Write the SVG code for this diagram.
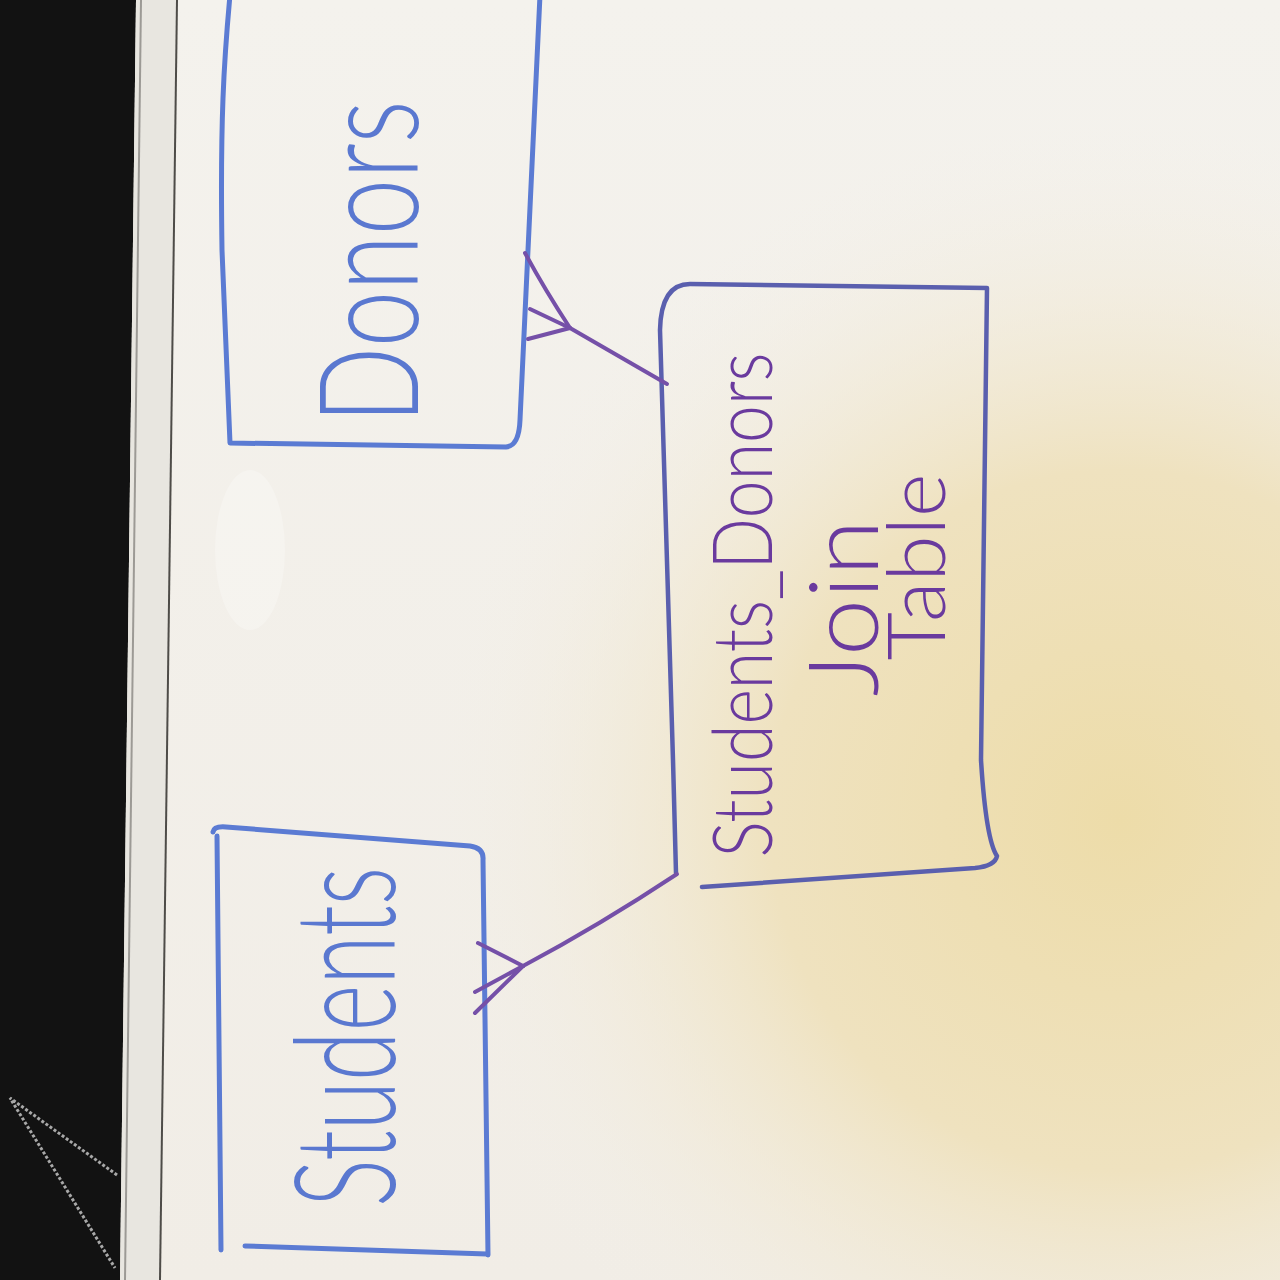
<svg xmlns="http://www.w3.org/2000/svg" width="1280" height="1280" viewBox="0 0 1280 1280">
<defs>
<radialGradient id="warm" cx="1120" cy="820" r="700" gradientUnits="userSpaceOnUse">
<stop offset="0" stop-color="#eddca9"/>
<stop offset="0.5" stop-color="#efe2bf"/>
<stop offset="1" stop-color="#f3f0ea" stop-opacity="0"/>
</radialGradient>
<linearGradient id="board" x1="0" y1="0" x2="0" y2="1">
<stop offset="0" stop-color="#f4f2ed"/>
<stop offset="1" stop-color="#f1ede6"/>
</linearGradient>
<style>
.blue{fill:none;stroke:#5b7bd3;stroke-width:5;stroke-linecap:round;stroke-linejoin:round}
.slate{fill:none;stroke:#5a5fae;stroke-width:4.5;stroke-linecap:round;stroke-linejoin:round}
.conn{fill:none;stroke:#7550a8;stroke-width:4;stroke-linecap:round;stroke-linejoin:round}
.big{font-family:Lato,"Open Sans","Liberation Sans",sans-serif;font-weight:300;fill:#5a78d0;text-anchor:middle}
.mid{font-family:Lato,"Open Sans","Liberation Sans",sans-serif;font-weight:300;fill:#6a3a9e;text-anchor:middle}
</style>
</defs>
<rect width="1280" height="1280" fill="url(#board)"/>
<rect width="1280" height="1280" fill="url(#warm)"/>
<ellipse cx="250" cy="550" rx="35" ry="80" fill="#ffffff" opacity="0.25"/>
<polygon points="0,0 136,0 120,1280 0,1280" fill="#121212"/>
<polygon points="136,0 178,0 160,1280 120,1280" fill="#e8e6e0"/>
<line x1="141" y1="0" x2="125" y2="1280" stroke="#9c9a95" stroke-width="2"/>
<line x1="177" y1="0" x2="160" y2="1280" stroke="#4e4c48" stroke-width="2"/>
<polyline points="117,1175 10,1098 115,1268" fill="none" stroke="#a8a8a8" stroke-width="3" stroke-dasharray="3 2"/>

<g id="donors">
<path class="blue" d="M230,-5 C224,60 220,120 222,250 L230,443 L506,447 Q519,446 520,420 L540,-5"/>
<text class="big" font-size="138" transform="translate(418,262) rotate(-90)" textLength="323" lengthAdjust="spacingAndGlyphs">Donors</text>
</g>

<g id="students">
<path class="blue" d="M213,832 Q214,826 226,827 L470,846 Q484,848 483,860 L488,1255"/>
<path class="blue" d="M217,836 L221,1250"/>
<path class="blue" d="M245,1246 L487,1254"/>
<text class="big" font-size="140" transform="translate(395,1037) rotate(-90)" textLength="340" lengthAdjust="spacingAndGlyphs">Students</text>
</g>

<g id="join-table">
<path class="slate" d="M676,873 L673,760 L660,330 Q661,284 690,284 L987,288 L981,760 Q986,840 997,856 Q995,866 975,868 L702,887"/>
<text class="mid" font-size="82" transform="translate(772,605) rotate(-90)" textLength="505" lengthAdjust="spacingAndGlyphs">Students_Donors</text>
<text class="mid" font-size="96" transform="translate(878,608) rotate(-90)" textLength="177" lengthAdjust="spacingAndGlyphs">Join</text>
<text class="mid" font-size="80" transform="translate(945,567) rotate(-90)" textLength="187" lengthAdjust="spacingAndGlyphs">Table</text>
</g>

<g id="connectors">
<path class="conn" d="M570,328 L667,384"/>
<path class="conn" d="M570,328 Q545,290 525,253"/>
<path class="conn" d="M570,328 L530,309"/>
<path class="conn" d="M570,328 L528,339"/>
<path class="conn" d="M523,966 Q600,925 677,874"/>
<path class="conn" d="M523,966 L478,943"/>
<path class="conn" d="M523,966 L475,992"/>
<path class="conn" d="M523,966 L475,1013"/>
</g>
</svg>
